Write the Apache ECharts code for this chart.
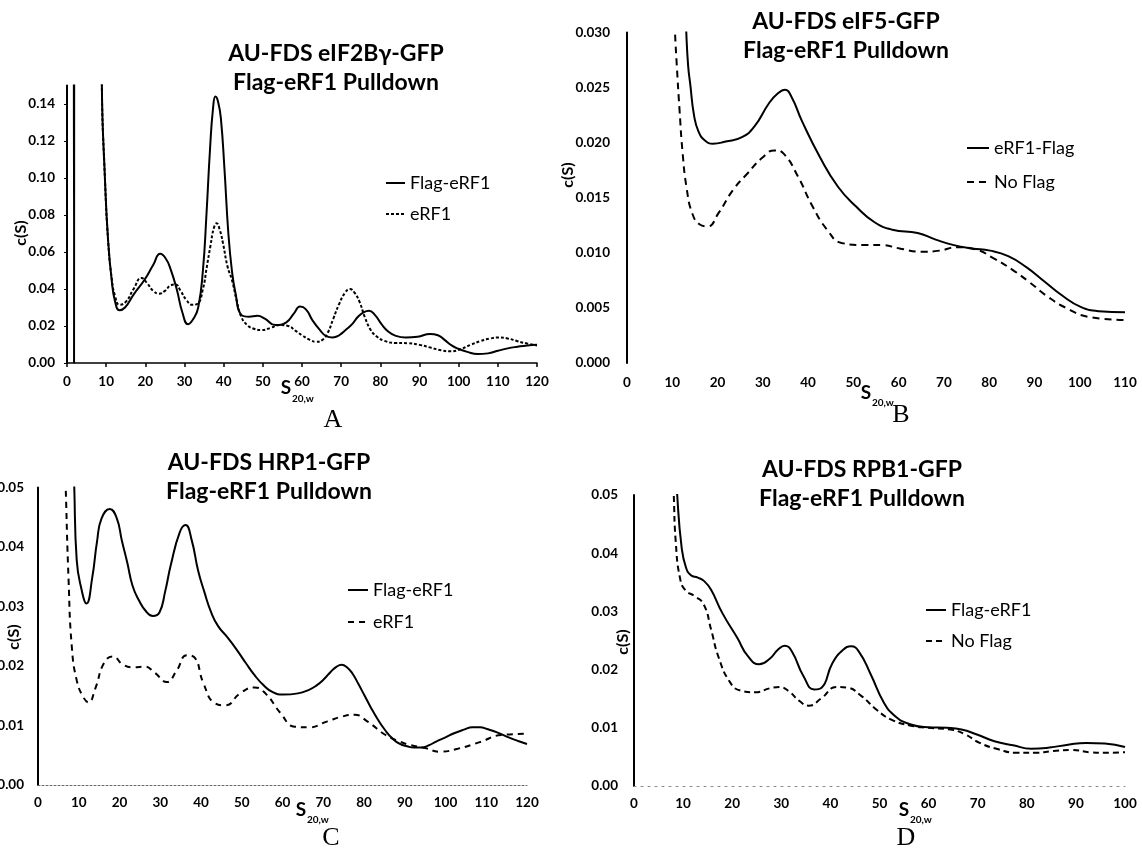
<!DOCTYPE html>
<html>
<head>
<meta charset="utf-8">
<title>AU-FDS c(S) Flag-eRF1 Pulldown</title>
<script src="https://cdn.jsdelivr.net/npm/echarts@6.0.0/dist/echarts.min.js"></script>
<style>
  html, body { margin: 0; padding: 0; background: #fff; }
  #chart { width: 1142px; height: 855px; }
</style>
</head>
<body>
<div id="chart"></div>
<script>
// A: eIF2Bγ-GFP
var sA1 = [1.7, 1.8, 1.9, 8.5, 8.9, 9.7, 10.5, 11.4, 12.3, 13.4, 14.8, 17, 19.8, 22, 23.8, 25.2, 26.4, 28, 29.5, 30.9, 32.3, 33.5, 34.7, 35.6, 36.5, 37.3, 37.9, 38.6, 39.3, 40.2, 41.2, 42.1, 43, 44.5, 46.5, 48.6, 50.5, 53.2, 56, 58, 59.5, 61, 62.7, 64.5, 66.2, 67.8, 69.5, 71.2, 72.8, 74.3, 75.8, 77.1, 78.6, 80.3, 82, 83.8, 86.5, 89.5, 92.7, 94.7, 96.4, 98.2, 100, 102.2, 104.8, 107.5, 110, 112.5, 115, 117.5, 120];
var cA1 = [0.3, 0, 0.3, 0.3, 0.15, 0.099, 0.066, 0.045, 0.033, 0.0285, 0.03, 0.037, 0.045, 0.053, 0.059, 0.0565, 0.051, 0.04, 0.027, 0.021, 0.024, 0.03, 0.05, 0.08, 0.115, 0.138, 0.144, 0.141, 0.132, 0.105, 0.07, 0.05, 0.038, 0.026, 0.025, 0.0255, 0.024, 0.0205, 0.022, 0.027, 0.0305, 0.029, 0.023, 0.018, 0.0145, 0.0138, 0.015, 0.018, 0.021, 0.025, 0.0275, 0.0283, 0.026, 0.021, 0.017, 0.0148, 0.0138, 0.0142, 0.0157, 0.015, 0.0125, 0.0095, 0.0076, 0.006, 0.0048, 0.0052, 0.0066, 0.0079, 0.0088, 0.0095, 0.0098];
var sA2 = [8.5, 8.9, 9.7, 10.5, 11.4, 12.3, 13.4, 15, 17, 19, 20.5, 22, 23.5, 25, 26.5, 27.7, 29, 30.5, 32, 33.3, 34.7, 35.7, 36.6, 37.5, 38.2, 39, 39.8, 41, 42.1, 43.3, 44.5, 46, 47.7, 49.6, 52, 54.2, 56.5, 58.3, 60, 62, 63.6, 65.2, 66.5, 68, 69.5, 71, 72.2, 73.4, 74.7, 76, 77.5, 79, 81, 84, 87, 90, 93, 95.5, 98, 100.5, 103, 105.5, 108, 110.2, 112.5, 115, 117.5, 120];
var cA2 = [0.3, 0.15, 0.099, 0.066, 0.046, 0.036, 0.0315, 0.033, 0.04, 0.046, 0.043, 0.039, 0.0375, 0.039, 0.042, 0.0425, 0.039, 0.034, 0.0315, 0.032, 0.04, 0.052, 0.063, 0.073, 0.0755, 0.072, 0.065, 0.052, 0.045, 0.034, 0.025, 0.0205, 0.0185, 0.0178, 0.019, 0.0205, 0.02, 0.0175, 0.015, 0.0125, 0.0115, 0.0125, 0.016, 0.024, 0.032, 0.038, 0.04, 0.038, 0.033, 0.025, 0.018, 0.0145, 0.012, 0.0108, 0.0107, 0.0098, 0.0082, 0.0069, 0.0063, 0.0075, 0.0098, 0.0118, 0.0132, 0.0138, 0.0133, 0.0118, 0.0105, 0.0095];

// B: eIF5-GFP
var sB1 = [12.9, 13.1, 13.5, 14, 14.8, 15.8, 17.2, 19, 21.8, 25.4, 28.2, 31.4, 33.4, 34.9, 36.4, 38.6, 42.6, 46.6, 50.6, 54.6, 58.6, 64.2, 68.2, 72.2, 76.2, 80.2, 84.2, 88.2, 92.2, 96.2, 100.2, 104.2, 110];
var cB1 = [0.033, 0.030, 0.027, 0.0252, 0.0225, 0.021, 0.0202, 0.0199, 0.0201, 0.0205, 0.0215, 0.0236, 0.0245, 0.0248, 0.0241, 0.022, 0.0187, 0.016, 0.0142, 0.0128, 0.0121, 0.0118, 0.0112, 0.0107, 0.0104, 0.0102, 0.0097, 0.0087, 0.0074, 0.0061, 0.0051, 0.0047, 0.0046];
var sB2 = [10.4, 10.6, 11, 11.6, 12.3, 13.2, 14.4, 16, 17.8, 20.2, 23.4, 26.6, 29.8, 32.6, 34.6, 37.8, 41, 44.2, 47.4, 52.2, 56.2, 60.2, 65, 69, 73, 77, 81, 85, 89, 93, 97, 101.8, 110];
var cB2 = [0.032, 0.030, 0.027, 0.023, 0.019, 0.0158, 0.0136, 0.0126, 0.0124, 0.0136, 0.0157, 0.0172, 0.0186, 0.0193, 0.019, 0.0169, 0.0142, 0.0121, 0.0109, 0.0107, 0.0107, 0.0104, 0.0101, 0.0102, 0.0105, 0.0103, 0.0095, 0.0085, 0.0073, 0.006, 0.005, 0.0042, 0.0039];

// C: HRP1-GFP
var sC1 = [8.7, 8.9, 9.5, 10.7, 11.9, 13.3, 14.5, 15.6, 17.6, 19.3, 20.6, 21.9, 23.2, 24.8, 26.5, 28.2, 29.8, 31.2, 32.6, 34.8, 36.2, 37.7, 39.3, 40.8, 42.5, 44.2, 46.5, 48.7, 51, 53.1, 55.3, 57.6, 60.2, 63.8, 66.5, 68.3, 70.2, 71.8, 73.3, 74.5, 75.8, 77.2, 78.6, 80, 81.7, 83.4, 85.2, 87, 88.8, 90.6, 92.3, 94.1, 96, 97.7, 100, 102.1, 104.5, 106.6, 108.5, 110.2, 112.8, 115.5, 117.8, 120];
var cC1 = [0.055, 0.05, 0.0378, 0.0328, 0.0305, 0.0348, 0.041, 0.0448, 0.0464, 0.0449, 0.041, 0.0374, 0.0335, 0.031, 0.0292, 0.0284, 0.029, 0.0325, 0.037, 0.0425, 0.0437, 0.0412, 0.036, 0.0325, 0.029, 0.0267, 0.0248, 0.0228, 0.0205, 0.0185, 0.0168, 0.0156, 0.0152, 0.0154, 0.016, 0.0167, 0.0178, 0.019, 0.0199, 0.0202, 0.0198, 0.0187, 0.017, 0.0152, 0.013, 0.011, 0.0092, 0.0078, 0.0069, 0.0065, 0.0063, 0.0063, 0.0067, 0.0073, 0.008, 0.0087, 0.0093, 0.0097, 0.0097, 0.0094, 0.0088, 0.008, 0.0074, 0.0069];
var sC2 = [6.6, 6.8, 7.5, 8.3, 9.5, 11.1, 12.4, 14.1, 16.2, 18.4, 20.9, 23.5, 26.2, 28.6, 31.6, 34, 36.5, 38.3, 40.6, 43.3, 46, 49.6, 53.1, 55.8, 59.5, 63, 66.5, 71, 74.6, 77.7, 80.8, 85.3, 88.8, 91.4, 95, 98.6, 103, 108.4, 113.7, 120];
var cC2 = [0.055, 0.05, 0.0345, 0.0232, 0.0176, 0.0148, 0.0139, 0.0163, 0.0205, 0.0216, 0.0202, 0.0198, 0.0199, 0.0189, 0.0173, 0.0192, 0.0218, 0.0215, 0.0171, 0.0138, 0.0134, 0.0154, 0.0164, 0.0154, 0.0121, 0.0098, 0.0097, 0.0107, 0.0115, 0.0118, 0.0107, 0.0084, 0.0073, 0.0067, 0.0062, 0.0056, 0.0061, 0.0072, 0.0084, 0.0086];

// D: RPB1-GFP
var sD1 = [8.6, 8.8, 9.7, 10.6, 11.6, 13, 14.3, 15.7, 18, 21, 23.2, 25.5, 27.7, 29.4, 30.7, 32.1, 34.5, 36.7, 38.2, 40.4, 42.6, 44.2, 45.8, 48.2, 50.9, 53.2, 56.2, 59.9, 63.7, 66.7, 69.7, 73.4, 77.2, 80.9, 84.6, 88.4, 92.1, 95.9, 100];
var cD1 = [0.055, 0.05, 0.041, 0.0375, 0.0362, 0.0358, 0.0352, 0.0337, 0.0297, 0.0255, 0.0223, 0.0209, 0.0219, 0.0235, 0.0241, 0.0232, 0.0189, 0.0166, 0.0169, 0.0211, 0.0234, 0.024, 0.0231, 0.0192, 0.0143, 0.012, 0.0106, 0.0101, 0.01, 0.0097, 0.0089, 0.0077, 0.007, 0.0064, 0.0066, 0.0071, 0.0074, 0.0073, 0.0067];
var sD2 = [7.9, 8.1, 8.5, 9.4, 10.5, 12.4, 14.2, 15.7, 17.2, 19.5, 21.7, 24.7, 27.7, 29.6, 31.5, 33.7, 35.6, 38.2, 41.2, 43.4, 46.4, 49.4, 52.4, 56.2, 59.9, 64.4, 67.4, 70.4, 74.2, 77.9, 81.6, 85.4, 89.1, 92.9, 96.6, 100];
var cD2 = [0.055, 0.05, 0.042, 0.0356, 0.0336, 0.0326, 0.0312, 0.0269, 0.0222, 0.0179, 0.0164, 0.0161, 0.0168, 0.017, 0.0163, 0.0146, 0.0138, 0.0151, 0.017, 0.0169, 0.0154, 0.0131, 0.0114, 0.0104, 0.01, 0.0097, 0.0089, 0.0074, 0.0063, 0.0057, 0.0057, 0.006, 0.0062, 0.0058, 0.0057, 0.0058];

var titles = [
  "AU-FDS eIF2Bγ-GFP\nFlag-eRF1 Pulldown",
  "AU-FDS eIF5-GFP\nFlag-eRF1 Pulldown",
  "AU-FDS HRP1-GFP\nFlag-eRF1 Pulldown",
  "AU-FDS RPB1-GFP\nFlag-eRF1 Pulldown"
];
var letters = ["A", "B", "C", "D"];

(function() {
  var myChart = echarts.init(document.getElementById("chart"));
  var FONT = "Lato, 'Open Sans', sans-serif";

  function pairs(xs, ys) {
    return xs.map(function(x, i) {
      return [x, ys[i]];
    });
  }

  function line(name, xs, ys, idx, dash) {
    return {
      name: name,
      type: "line",
      xAxisIndex: idx,
      yAxisIndex: idx,
      data: pairs(xs, ys),
      symbol: "none",
      smooth: 0.5,
      clip: true,
      silent: true,
      lineStyle: { color: "#000", width: 2, type: dash || "solid" }
    };
  }

  // tick labels
  var labelStyle = { color: "#000", fontFamily: FONT, fontWeight: "bold", fontSize: 13.5 };

  function xAxis(idx, max, margin, axisLine, showTick) {
    return {
      type: "value",
      gridIndex: idx,
      min: 0,
      max: max,
      interval: 10,
      axisLine: axisLine,
      axisTick: { show: showTick, length: 4, lineStyle: { color: "#000", width: 1.5 } },
      axisLabel: Object.assign({ margin: margin }, labelStyle),
      splitLine: { show: false }
    };
  }

  function yAxis(idx, max, interval, digits, margin, showTick, showMax) {
    return {
      type: "value",
      gridIndex: idx,
      min: 0,
      max: max,
      interval: interval,
      axisLine: { show: true, lineStyle: { color: "#000", width: 2 } },
      axisTick: { show: showTick, length: 3, lineStyle: { color: "#000" } },
      axisLabel: Object.assign(
        {
          margin: margin,
          showMaxLabel: showMax,
          formatter: function(v) {
            return v.toFixed(digits);
          }
        },
        labelStyle
      ),
      splitLine: { show: false }
    };
  }

  function title(text, x, y) {
    return {
      text: text,
      left: x,
      top: y,
      textAlign: "center",
      padding: 0,
      textStyle: { color: "#000", fontFamily: FONT, fontWeight: "bold", fontSize: 23, lineHeight: 29 }
    };
  }

  // legend: line only, no dot
  function legend(items, x, y, w, gap) {
    return {
      data: items,
      orient: "vertical",
      left: x,
      top: y,
      padding: 0,
      itemWidth: w,
      itemHeight: 14,
      itemGap: gap,
      selectedMode: false,
      itemStyle: { color: "rgba(0,0,0,0)", borderColor: "rgba(0,0,0,0)", borderWidth: 0 },
      textStyle: { color: "#000", fontFamily: FONT, fontSize: 18, lineHeight: 20 }
    };
  }

  function text(str, x, y, font, align, rot) {
    return {
      type: "text",
      x: x,
      y: y,
      rotation: rot || 0,
      silent: true,
      style: {
        text: str,
        fill: "#000",
        font: font,
        align: align || "center",
        verticalAlign: "middle"
      }
    };
  }

  var csFont = "bold 16px " + FONT;
  var sFont = "bold 19px " + FONT;
  var subFont = "bold 10px " + FONT;
  var letterFont = "26px 'Liberation Serif', serif";

  var option = {
    backgroundColor: "#fff",
    animation: false,
    title: [
      title(titles[0], 336, 39),
      title(titles[1], 846, 7),
      title(titles[2], 269, 448),
      title(titles[3], 862, 455)
    ],
    legend: [
      legend([{ name: "Flag-eRF1" }, { name: "eRF1", lineStyle: { type: [3, 2] } }], 385, 173, 19, 11),
      legend([{ name: "eRF1-Flag" }, { name: "No Flag", lineStyle: { type: [7, 5] } }], 966, 138, 22, 14),
      legend([{ name: "Flag-eRF1" }, { name: "eRF1", lineStyle: { type: [6, 5] } }], 347, 580, 20, 12),
      legend([{ name: "Flag-eRF1" }, { name: "No Flag", lineStyle: { type: [6, 4] } }], 925, 600, 20, 11)
    ],
    grid: [
      { left: 67, top: 85.5, width: 470, height: 277.5, containLabel: false, outerBoundsMode: "none" },
      { left: 627, top: 32.5, width: 498, height: 330.5, containLabel: false, outerBoundsMode: "none" },
      { left: 38, top: 487.5, width: 489, height: 297.5, containLabel: false, outerBoundsMode: "none" },
      { left: 634, top: 495, width: 491, height: 291, containLabel: false, outerBoundsMode: "none" }
    ],
    xAxis: [
      xAxis(0, 120, 12, { show: true, lineStyle: { color: "#000", width: 1.5 } }, true),
      xAxis(1, 110, 13, { show: false }, false),
      xAxis(2, 120, 11, { show: true, lineStyle: { color: "#666", width: 1, type: [2, 2] } }, false),
      xAxis(3, 100, 11, { show: true, lineStyle: { color: "#888", width: 1, type: [2, 5] } }, false)
    ],
    yAxis: [
      yAxis(0, 0.15, 0.02, 2, 12, true, false),
      yAxis(1, 0.03, 0.005, 3, 17, false, true),
      yAxis(2, 0.05, 0.01, 2, 14, false, true),
      yAxis(3, 0.05, 0.01, 2, 16, false, true)
    ],
    series: [
      line("Flag-eRF1", sA1, cA1, 0),
      line("eRF1", sA2, cA2, 0, [3, 2]),
      line("eRF1-Flag", sB1, cB1, 1),
      line("No Flag", sB2, cB2, 1, [7, 5]),
      line("Flag-eRF1", sC1, cC1, 2),
      line("eRF1", sC2, cC2, 2, [6, 5]),
      line("Flag-eRF1", sD1, cD1, 3),
      line("No Flag", sD2, cD2, 3, [6, 4])
    ],
    graphic: [
      // c(S)
      text("c(S)", 21, 233, csFont, "center", Math.PI / 2),
      text("c(S)", 568, 175, csFont, "center", Math.PI / 2),
      text("c(S)", 14, 637, csFont, "center", Math.PI / 2),
      text("c(S)", 623, 642, csFont, "center", Math.PI / 2),
      // S20,w
      text("S", 286, 388, sFont),
      text("20,w", 292, 399, subFont, "left"),
      text("S", 866, 393, sFont),
      text("20,w", 872, 403, subFont, "left"),
      text("S", 301, 810, sFont),
      text("20,w", 307, 820, subFont, "left"),
      text("S", 904, 810, sFont),
      text("20,w", 910, 820, subFont, "left"),
      // panel letters
      text(letters[0], 333, 420, letterFont),
      text(letters[1], 901, 415, letterFont),
      text(letters[2], 331, 838, letterFont),
      text(letters[3], 906, 838, letterFont)
    ]
  };

  myChart.setOption(option);
  window.addEventListener("resize", function() {
    myChart.resize();
  });
})();
</script>
</body>
</html>
